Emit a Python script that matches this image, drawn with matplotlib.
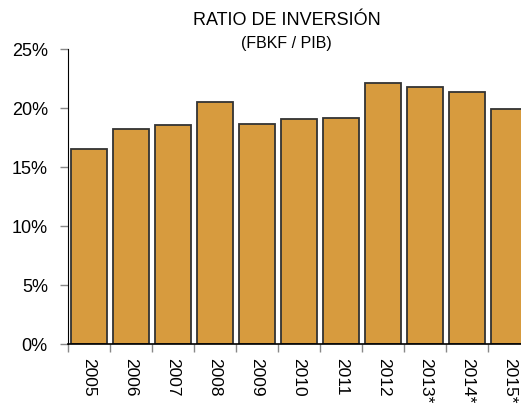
import numpy as np
import matplotlib.pyplot as plt
from matplotlib.ticker import FuncFormatter

years = ['2005', '2006', '2007', '2008', '2009', '2010', '2011', '2012', '2013*', '2014*', '2015*']
ratio = [16.5, 18.2, 18.55, 20.5, 18.7, 19.05, 19.15, 22.1, 21.8, 21.4, 19.9]

plt.rcParams['font.family'] = ['Liberation Sans Narrow', 'Liberation Sans', 'DejaVu Sans']

fig = plt.figure(figsize=(5.21, 4.05), dpi=100)
ax = fig.add_axes([0.1305, 0.1506, 0.8695, 0.7277])

x = np.arange(len(years))
ax.bar(x, ratio, width=0.85, color='#D79B3E', edgecolor='#333333', linewidth=1.3, zorder=2)

ax.set_ylim(0, 25)
ax.set_xlim(-0.5, 10.28)
ax.set_yticks([0, 5, 10, 15, 20, 25])
ax.yaxis.set_major_formatter(FuncFormatter(lambda v, p: f'{v:.0f}%'))

# ticks on category boundaries, labels centred on bars
ax.set_xticks(np.arange(len(years)) - 0.5)
ax.set_xticklabels([])
ax.set_xticks(x, minor=True)
ax.set_xticklabels(years, minor=True, rotation=270, fontsize=12.5, va='top', ha='center')
ax.tick_params(axis='x', which='minor', length=0, pad=10)
ax.tick_params(axis='x', which='major', length=6, color='#888888', width=1)
ax.tick_params(axis='y', length=6, color='#888888', width=1, labelsize=13, pad=8.5)

for s in ['top', 'right']:
    ax.spines[s].set_visible(False)
ax.spines['left'].set_color('black')
ax.spines['bottom'].set_color('black')
ax.spines['bottom'].set_linewidth(1.2)

fig.text(0.55, 0.95, 'RATIO DE INVERSIÓN', ha='center', va='center', fontsize=13)
fig.text(0.55, 0.893, '(FBKF / PIB)', ha='center', va='center', fontsize=11.5)

fig.savefig('out.png', dpi=100)
